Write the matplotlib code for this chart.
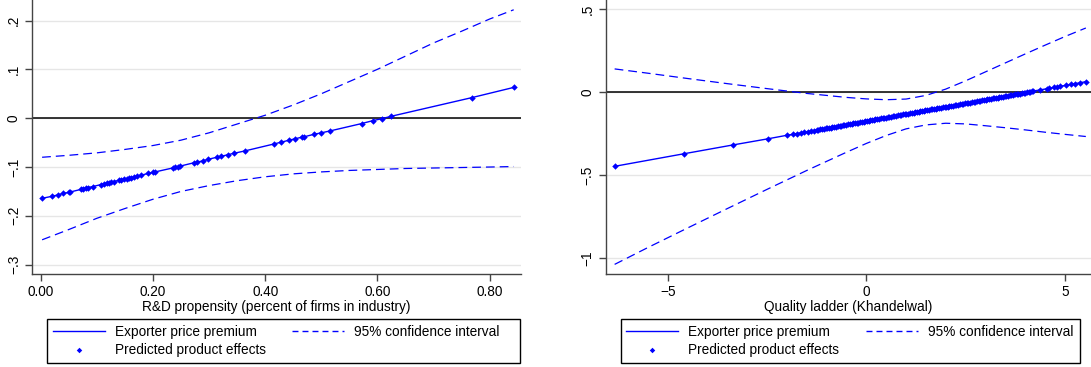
import matplotlib
matplotlib.use("Agg")
import matplotlib.pyplot as plt
from matplotlib.lines import Line2D
from matplotlib.patches import Rectangle

plt.rcParams['font.family'] = ['Liberation Sans', 'DejaVu Sans']

# left panel : R&D propensity
rd_x = [0.0025, 0.020, 0.031, 0.040, 0.050, 0.053, 0.071, 0.076, 0.080, 0.084,
        0.093, 0.107, 0.113, 0.118, 0.122, 0.125, 0.130, 0.140, 0.143, 0.149,
        0.153, 0.158, 0.161, 0.166, 0.171, 0.178, 0.192, 0.200, 0.204, 0.235,
        0.240, 0.245, 0.249, 0.274, 0.279, 0.290, 0.299, 0.314, 0.322, 0.333,
        0.344, 0.364, 0.415, 0.429, 0.443, 0.454, 0.465, 0.470, 0.487, 0.500,
        0.516, 0.572, 0.592, 0.608, 0.625, 0.768, 0.843]
rd_y = [-0.164, -0.160, -0.157, -0.154, -0.152, -0.151, -0.146, -0.144, -0.143, -0.142,
        -0.140, -0.136, -0.134, -0.133, -0.132, -0.131, -0.130, -0.127, -0.126, -0.125,
        -0.124, -0.122, -0.122, -0.120, -0.119, -0.117, -0.113, -0.111, -0.110, -0.102,
        -0.100, -0.099, -0.098, -0.091, -0.090, -0.087, -0.084, -0.080, -0.078, -0.075,
        -0.072, -0.067, -0.053, -0.049, -0.045, -0.042, -0.039, -0.038, -0.033, -0.030,
        -0.026, -0.011, -0.005, -0.001, 0.004, 0.042, 0.063]
rd_ci_x = [0.0025, 0.05, 0.10, 0.15, 0.20, 0.25, 0.30, 0.35, 0.40, 0.45,
           0.50, 0.55, 0.60, 0.65, 0.70, 0.75, 0.80, 0.843]
rd_ci_hi = [-0.080, -0.076, -0.071, -0.064, -0.056, -0.045, -0.030, -0.012, 0.006, 0.027,
            0.050, 0.075, 0.100, 0.127, 0.154, 0.178, 0.203, 0.222]
rd_ci_lo = [-0.249, -0.228, -0.205, -0.185, -0.166, -0.150, -0.138, -0.128, -0.120, -0.114,
            -0.110, -0.107, -0.105, -0.103, -0.102, -0.101, -0.100, -0.099]
rd_xticks = [0.0, 0.2, 0.4, 0.6, 0.8]
rd_xlabels = ['0.00', '0.20', '0.40', '0.60', '0.80']
rd_yticks = [-0.3, -0.2, -0.1, 0.0, 0.1, 0.2]
rd_ylabels = ['\u2212.3', '\u2212.2', '\u2212.1', '0', '.1', '.2']

# right panel : quality ladder
ql_x = [-6.34, -4.59, -3.36, -2.48, -2.01, -1.85, -1.74, -1.65, -1.57, -1.48, -1.39, -1.32,
        -1.25, -1.16, -1.07, -0.98, -0.90, -0.81, -0.72, -0.63, -0.55, -0.46, -0.37, -0.29,
        -0.20, -0.11, -0.03, 0.06, 0.15, 0.23, 0.32, 0.41, 0.49, 0.58, 0.67, 0.75,
        0.84, 0.93, 1.01, 1.10, 1.19, 1.27, 1.36, 1.45, 1.53, 1.62, 1.71, 1.79,
        1.88, 1.97, 2.05, 2.14, 2.23, 2.31, 2.40, 2.49, 2.57, 2.66, 2.75, 2.83,
        2.92, 3.01, 3.09, 3.18, 3.27, 3.35, 3.44, 3.53, 3.61, 3.70, 3.79, 3.87,
        3.96, 4.05, 4.13, 4.20, 4.37, 4.54, 4.59, 4.72, 4.81, 4.89, 5.03, 5.16,
        5.25, 5.38, 5.53]
ql_y = [-0.448, -0.372, -0.319, -0.282, -0.261, -0.255, -0.250, -0.246, -0.243, -0.239, -0.235, -0.232,
        -0.229, -0.225, -0.221, -0.217, -0.214, -0.210, -0.206, -0.202, -0.199, -0.195, -0.191, -0.187,
        -0.184, -0.180, -0.176, -0.172, -0.169, -0.165, -0.161, -0.157, -0.154, -0.150, -0.146, -0.143,
        -0.139, -0.135, -0.132, -0.128, -0.124, -0.120, -0.117, -0.113, -0.109, -0.105, -0.101, -0.098,
        -0.094, -0.090, -0.087, -0.083, -0.079, -0.076, -0.072, -0.068, -0.064, -0.061, -0.057, -0.053,
        -0.049, -0.046, -0.042, -0.038, -0.034, -0.031, -0.027, -0.023, -0.020, -0.016, -0.012, -0.009,
        -0.005, -0.001, 0.003, 0.006, 0.013, 0.020, 0.022, 0.028, 0.032, 0.035, 0.041, 0.047,
        0.051, 0.056, 0.063]
# more products packed in the crowded middle of the quality ladder
ql_x2 = [-1.205, -1.115, -1.025, -0.94, -0.855, -0.765, -0.675, -0.59, -0.505, -0.415,
         -0.33, -0.245, -0.155, -0.07, 0.015, 0.105, 0.19, 0.275, 0.365, 0.45,
         0.535, 0.625, 0.71, 0.795, 0.885, 0.97, 1.055, 1.145, 1.23, 1.315,
         1.405, 1.49, 1.575, 1.665, 1.75, 1.835, 1.925, 2.01, 2.095, 2.185,
         2.27, 2.355, 2.445, 2.53, 2.615, 2.705, 2.79, 2.875, 2.965, 3.05,
         3.135, 3.225, 3.31, 3.395, 3.485, 3.57, 3.655, 3.745, 3.83, 3.915,
         4.005, 4.09, 4.165]
ql_y2 = [-0.227, -0.223, -0.219, -0.215, -0.212, -0.208, -0.204, -0.200, -0.197, -0.193,
         -0.189, -0.186, -0.182, -0.178, -0.174, -0.170, -0.167, -0.163, -0.159, -0.156,
         -0.152, -0.148, -0.144, -0.141, -0.137, -0.133, -0.130, -0.126, -0.122, -0.118,
         -0.115, -0.111, -0.107, -0.103, -0.100, -0.096, -0.092, -0.089, -0.085, -0.081,
         -0.077, -0.074, -0.070, -0.066, -0.063, -0.059, -0.055, -0.051, -0.048, -0.044,
         -0.040, -0.036, -0.033, -0.029, -0.025, -0.021, -0.018, -0.014, -0.010, -0.007,
         -0.003, 0.001, 0.004]
ql_ci_x = [-6.34, -5.5, -4.5, -3.5, -2.5, -1.5, -0.5, 0.0, 0.5, 1.0,
           1.5, 2.0, 2.5, 3.0, 3.5, 4.0, 4.5, 5.0, 5.53]
ql_ci_hi = [0.140, 0.114, 0.082, 0.051, 0.021, -0.008, -0.032, -0.041, -0.046, -0.042,
            -0.020, 0.018, 0.068, 0.122, 0.176, 0.230, 0.283, 0.335, 0.387]
ql_ci_lo = [-1.040, -0.938, -0.820, -0.703, -0.587, -0.473, -0.363, -0.310, -0.262, -0.222,
            -0.198, -0.188, -0.192, -0.203, -0.215, -0.228, -0.242, -0.255, -0.268]
ql_xticks = [-5, 0, 5]
ql_xlabels = ['\u22125', '0', '5']
ql_yticks = [-1.0, -0.5, 0.0, 0.5]
ql_ylabels = ['\u22121', '\u2212.5', '0', '.5']

BLUE = '#0000ff'
FS = 9.8
MS = 3.3
W, H = 1091, 367

fig = plt.figure(figsize=(W / 100, H / 100), dpi=100)

ax_bottom = 1 - 273.5 / H
ax_h = 1 - ax_bottom
ax1 = fig.add_axes([32 / W, ax_bottom, (521 - 32) / W, ax_h])
ax2 = fig.add_axes([605.5 / W, ax_bottom, (W - 605.5) / W, ax_h])


def panel(ax, x, y, cx, chi, clo, xt, xl, yt, yl, xlim, ylim, xlabel):
    for t in yt:
        ax.axhline(t, color='#e6e6e6', lw=1, zorder=0)
    ax.axhline(0, color='black', lw=1.1, zorder=1)
    ax.plot(cx, chi, color=BLUE, lw=0.9, dashes=(7, 4), zorder=2)
    ax.plot(cx, clo, color=BLUE, lw=0.9, dashes=(7, 4), zorder=2)
    ax.plot(x, y, color=BLUE, lw=1, zorder=3)
    ax.plot(x, y, 'D', color=BLUE, ms=MS, mew=0, zorder=4)
    ax.set_xlim(xlim)
    ax.set_ylim(ylim)
    ax.set_xticks(xt)
    ax.set_xticklabels(xl, fontsize=FS)
    ax.set_yticks(yt)
    ax.set_yticklabels(yl, fontsize=FS, rotation=90, va='center')
    ax.set_xlabel(xlabel, fontsize=FS, labelpad=1)
    for s in ['top', 'right']:
        ax.spines[s].set_visible(False)
    for s in ['left', 'bottom']:
        ax.spines[s].set_color('#444444')
        ax.spines[s].set_linewidth(1)
    ax.tick_params(length=5, width=1, color='#444444', pad=3)


panel(ax1, rd_x, rd_y, rd_ci_x, rd_ci_hi, rd_ci_lo, rd_xticks, rd_xlabels,
      rd_yticks, rd_ylabels, (-0.0155, 0.856), (-0.318, 0.242),
      'R&D propensity (percent of firms in industry)')
panel(ax2, ql_x, ql_y, ql_ci_x, ql_ci_hi, ql_ci_lo, ql_xticks, ql_xlabels,
      ql_yticks, ql_ylabels, (-6.57, 5.66), (-1.095, 0.556),
      'Quality ladder (Khandelwal)')
ax2.plot(ql_x2, ql_y2, 'D', color=BLUE, ms=MS, mew=0, zorder=4)

# legends in the Stata look: entries without frame, box drawn apart
handles = [Line2D([], [], color=BLUE, lw=1),
           Line2D([], [], color=BLUE, ls='none', marker='D', ms=2.8, mew=0),
           Line2D([], [], color=BLUE, lw=1, dashes=(4.3, 2.9))]
labels = ['Exporter price premium', 'Predicted product effects', '95% confidence interval']

for left, right in [(47.3, 519.5), (620.7, 1079.5)]:
    top, bottom = 319.3, 363.3
    fig.legend(handles, labels, loc='upper left', bbox_to_anchor=(left / W, 1 - top / H),
               ncol=2, fontsize=FS, frameon=False,
               handlelength=3.8, handletextpad=0.73, columnspacing=1.97,
               labelspacing=0.32, borderpad=0.42, borderaxespad=0)
    fig.patches.append(Rectangle((left / W, 1 - bottom / H), (right - left) / W,
                                 (bottom - top) / H, transform=fig.transFigure,
                                 fill=False, edgecolor='black', lw=1))

fig.savefig('out.png', dpi=100)
